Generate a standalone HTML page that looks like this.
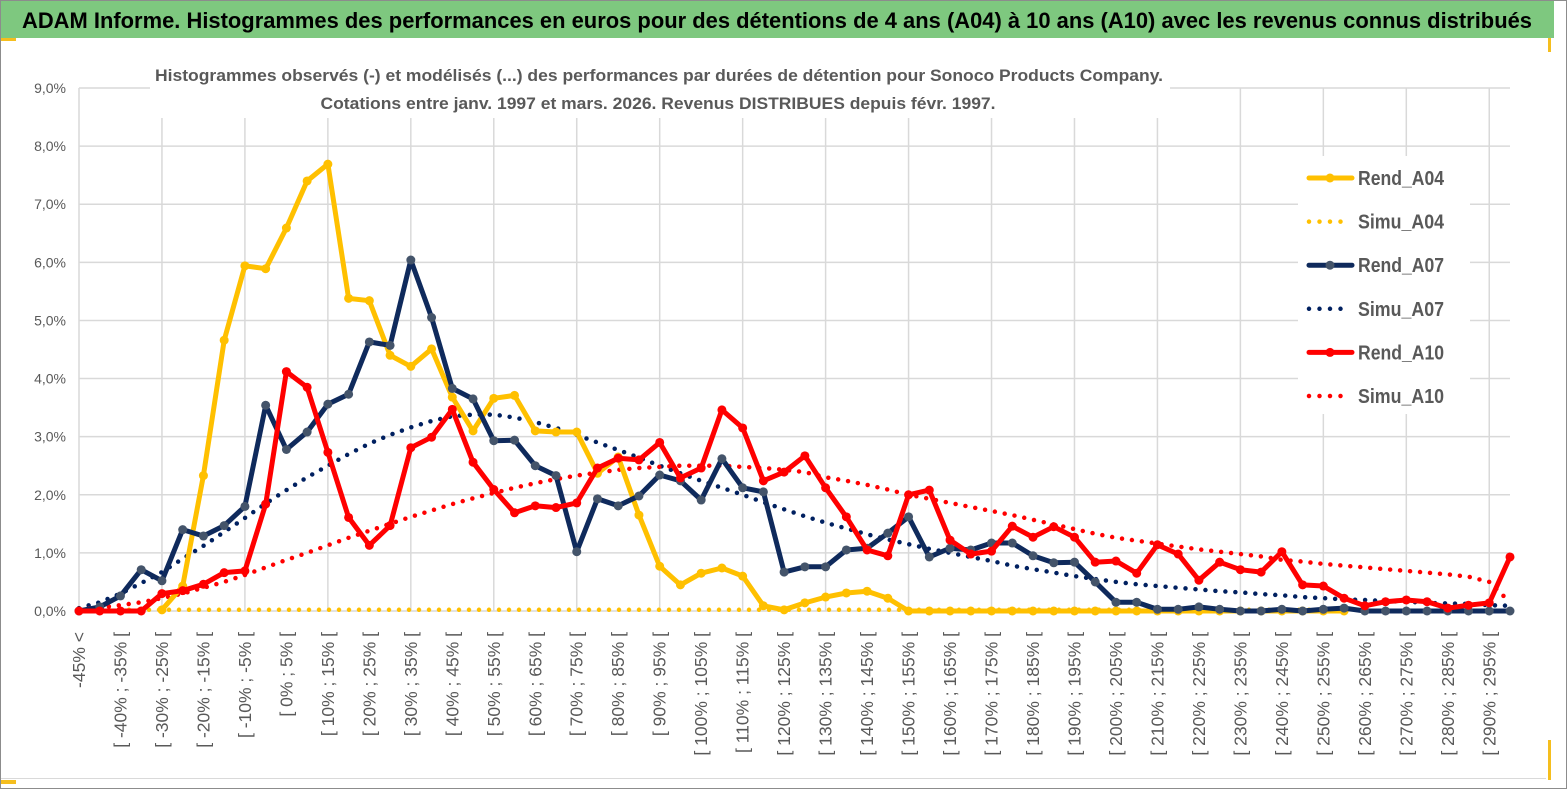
<!DOCTYPE html>
<html><head><meta charset="utf-8"><style>
html,body{margin:0;padding:0;background:#fff;}
svg{display:block;font-family:"Liberation Sans",sans-serif;}
</style></head><body>
<svg id="chart" width="1567" height="789" viewBox="0 0 1567 789">
<rect x="0" y="0" width="1567" height="789" fill="#fff"/>
<rect x="0.5" y="0.5" width="1566" height="788" fill="none" stroke="#8c8c8c"/>
<rect x="1" y="1" width="1553" height="37" fill="#7ec87f"/>
<text x="22" y="28" font-size="22" font-weight="bold" fill="#000" textLength="1510" lengthAdjust="spacingAndGlyphs">ADAM Informe. Histogrammes des performances en euros pour des détentions de 4 ans (A04) à 10 ans (A10) avec les revenus connus distribués</text>
<rect x="1" y="38" width="15" height="3" fill="#f5be1e"/>
<rect x="1548" y="38" width="3" height="14" fill="#f5be1e"/>
<rect x="1" y="778" width="1545" height="1" fill="#d9d9d9"/>
<rect x="1" y="780" width="15" height="4" fill="#f5be1e"/>
<rect x="1548" y="740" width="3" height="40" fill="#f5be1e"/>
<g id="grid"></g>
<g id="ylabels"></g>
<g id="xlabels"></g>
<rect x="150" y="58" width="1020" height="60" fill="#fff"/>
<text x="659" y="81" font-size="17" font-weight="bold" fill="#595959" text-anchor="middle" textLength="1008" lengthAdjust="spacingAndGlyphs">Histogrammes observés (-) et modélisés (...) des performances par durées de détention pour Sonoco Products Company.</text>
<text x="658" y="109" font-size="17" font-weight="bold" fill="#595959" text-anchor="middle" textLength="675" lengthAdjust="spacingAndGlyphs">Cotations entre janv. 1997 et mars. 2026. Revenus DISTRIBUES depuis févr. 1997.</text>
<rect x="1298" y="156" width="172" height="258" fill="#fff"/>
<g id="series"></g>
<g id="legend"></g>
</svg>
<script>
const categories = ["-45% <"];
for (let s = -45; s <= 295; s += 5) categories.push("[ " + s + "% ; " + (s + 5) + "% [");
const yTicks = [0,1,2,3,4,5,6,7,8,9];
const rendA04 = [null,null,null,null,0.02,0.43,2.33,4.66,5.94,5.89,6.59,7.40,7.69,5.38,5.34,4.40,4.21,4.51,3.68,3.10,3.66,3.71,3.10,3.08,3.08,2.37,2.65,1.65,0.77,0.45,0.65,0.74,0.60,0.09,0.02,0.14,0.24,0.31,0.34,0.22,0,0,0,0,0,0,0,0,0,0,0,0,0,0,0,0,0,0,0,0,0,0,null,null,null,null,null,null,null,null];
const simuA04 = [0.02,0.02,0.02,0.02,0.02,0.02,0.02,0.02,0.02,0.02,0.02,0.02,0.02,0.02,0.02,0.02,0.02,0.02,0.02,0.02,0.02,0.02,0.02,0.02,0.02,0.02,0.02,0.02,0.02,0.02,0.02,0.02,0.02,0.02,0.02,0.02,0.02,0.02,0.02,0.02,0.02,0.02,0.02,0.02,0.02,0.02,0.02,0.02,0.02,0.02,0.02,0.02,0.02,0.02,0.02,0.02,0.02,0.02,0.02,0.02,0.02,0.02,null,null,null,null,null,null,null,null];
const rendA07 = [0,0.07,0.26,0.71,0.52,1.40,1.29,1.47,1.80,3.54,2.78,3.08,3.56,3.73,4.63,4.57,6.04,5.05,3.83,3.65,2.93,2.94,2.50,2.33,1.02,1.93,1.81,1.98,2.34,2.24,1.91,2.62,2.12,2.05,0.67,0.76,0.76,1.05,1.08,1.34,1.62,0.93,1.08,1.05,1.17,1.17,0.95,0.83,0.84,0.50,0.15,0.15,0.03,0.03,0.07,0.03,0,0,0.03,0,0.03,0.05,0,0,0,0,0,0,0,0];
const simuA07 = [0.05,0.15,0.3,0.48,0.67,0.9,1.12,1.36,1.6,1.85,2.08,2.3,2.5,2.7,2.88,3.03,3.16,3.27,3.35,3.38,3.38,3.33,3.25,3.15,3.03,2.9,2.77,2.64,2.5,2.37,2.24,2.12,2.0,1.87,1.75,1.63,1.52,1.42,1.32,1.23,1.15,1.07,1.0,0.93,0.86,0.78,0.72,0.66,0.6,0.55,0.5,0.46,0.43,0.4,0.37,0.34,0.32,0.29,0.27,0.24,0.22,0.2,0.19,0.17,0.16,0.14,0.13,0.12,0.1,0.09];
const rendA10 = [0,0,0,0,0.3,0.35,0.46,0.66,0.69,1.84,4.12,3.85,2.73,1.61,1.13,1.47,2.81,2.99,3.47,2.56,2.09,1.69,1.81,1.78,1.86,2.46,2.63,2.6,2.9,2.29,2.46,3.46,3.15,2.24,2.39,2.67,2.12,1.62,1.05,0.95,2.0,2.08,1.22,0.98,1.03,1.46,1.27,1.45,1.27,0.84,0.86,0.65,1.14,0.98,0.53,0.84,0.71,0.67,1.02,0.45,0.43,0.22,0.09,0.16,0.19,0.16,0.05,0.1,0.14,0.93];
const simuA10 = [0.03,0.06,0.1,0.15,0.22,0.3,0.4,0.5,0.62,0.75,0.88,1.0,1.13,1.26,1.38,1.5,1.62,1.73,1.84,1.94,2.03,2.12,2.2,2.27,2.33,2.38,2.43,2.46,2.48,2.5,2.5,2.5,2.48,2.46,2.43,2.39,2.3,2.24,2.17,2.09,2.0,1.93,1.86,1.79,1.72,1.65,1.57,1.49,1.41,1.33,1.26,1.21,1.16,1.11,1.06,1.02,0.98,0.94,0.88,0.85,0.81,0.78,0.75,0.72,0.69,0.66,0.63,0.59,0.5,0.15];

const NS = "http://www.w3.org/2000/svg";
const X0 = 79, X1 = 1510, Y0 = 611, Y9 = 88;
const xScale = i => X0 + (X1 - X0) * i / (categories.length - 1);
const yScale = v => Y0 - (Y0 - Y9) * v / 9;
function mk(tag, attrs, parent) {
  const e = document.createElementNS(NS, tag);
  for (const k in attrs) e.setAttribute(k, attrs[k]);
  parent.appendChild(e);
  return e;
}
const grid = document.getElementById("grid");
yTicks.forEach(t => {
  const l = mk("line", {x1: X0, x2: X1, y1: yScale(t), y2: yScale(t), stroke: "#d9d9d9", "stroke-width": 1.5}, grid);
  
  
});
for (let i = 0; i < categories.length; i += 4) {
  const l = mk("line", {x1: xScale(i), x2: xScale(i), y1: Y9, y2: Y0, stroke: "#d9d9d9", "stroke-width": 1.5}, grid);
  
  
}
const yl = document.getElementById("ylabels");
yTicks.forEach(t => {
  const tx = mk("text", {x: 66, y: yScale(t) + 5, "font-size": 14, fill: "#595959", "text-anchor": "end"}, yl);
  tx.textContent = t.toFixed(1).replace(".", ",") + "%";
  
  
});
const xl = document.getElementById("xlabels");
for (let i = 0; i < categories.length; i += 2) {
  const x = xScale(i) + 6;
  const tx = mk("text", {x: x, y: 632, "font-size": 17.5, fill: "#595959", "text-anchor": "end", transform: "rotate(-90 " + x + " 632)"}, xl);
  tx.textContent = categories[i];
  
  
}
const series = document.getElementById("series");
function path(vals) {
  let d = "", pen = false;
  vals.forEach((v, i) => {
    if (v === null) { pen = false; return; }
    d += (pen ? "L" : "M") + xScale(i).toFixed(1) + " " + yScale(v).toFixed(1) + " ";
    pen = true;
  });
  return d;
}
function dotted(vals, color, name) {
  const p = mk("path", {d: path(vals), fill: "none", stroke: color, "stroke-width": 4.5, "stroke-linecap": "round", "stroke-dasharray": "0 10"}, series);
  
  
}
function solid(vals, color, mcolor, name) {
  const g = mk("g", {}, series);
  
  
  mk("path", {d: path(vals), fill: "none", stroke: color, "stroke-width": 5, "stroke-linejoin": "round"}, g);
  vals.forEach((v, i) => {
    if (v === null) return;
    const c = mk("circle", {cx: xScale(i), cy: yScale(v), r: 4.5, fill: mcolor}, g);
    
    
  });
}
dotted(simuA04, "#ffc000", "simu-a04-line");
dotted(simuA07, "#002060", "simu-a07-line");
dotted(simuA10, "#ff0000", "simu-a10-line");
solid(rendA04, "#ffc000", "#ffc000", "rend-a04-line");
solid(rendA07, "#0f2a5c", "#44546a", "rend-a07-line");
solid(rendA10, "#ff0000", "#ff0000", "rend-a10-line");

const lg = document.getElementById("legend");
const entries = [["Rend_A04","#ffc000","#ffc000",false],["Simu_A04","#ffc000",null,true],["Rend_A07","#0f2a5c","#44546a",false],["Simu_A07","#002060",null,true],["Rend_A10","#ff0000","#ff0000",false],["Simu_A10","#ff0000",null,true]];
entries.forEach((e, k) => {
  const y = 178 + k * 43.6;
  const g = mk("g", {}, lg);
  
  
  if (e[3]) {
    mk("line", {x1: 1309, x2: 1350, y1: y, y2: y, stroke: e[1], "stroke-width": 4.5, "stroke-linecap": "round", "stroke-dasharray": "0 10.5"}, g);
  } else {
    mk("line", {x1: 1309, x2: 1352, y1: y, y2: y, stroke: e[1], "stroke-width": 5, "stroke-linecap": "round"}, g);
    mk("circle", {cx: 1330, cy: y, r: 4.5, fill: e[2]}, g);
  }
  const t = mk("text", {x: 1358, y: y + 7, "font-size": 20, "font-weight": "bold", fill: "#595959", textLength: 86, lengthAdjust: "spacingAndGlyphs"}, g);
  t.textContent = e[0];
});
</script>
</body></html>
